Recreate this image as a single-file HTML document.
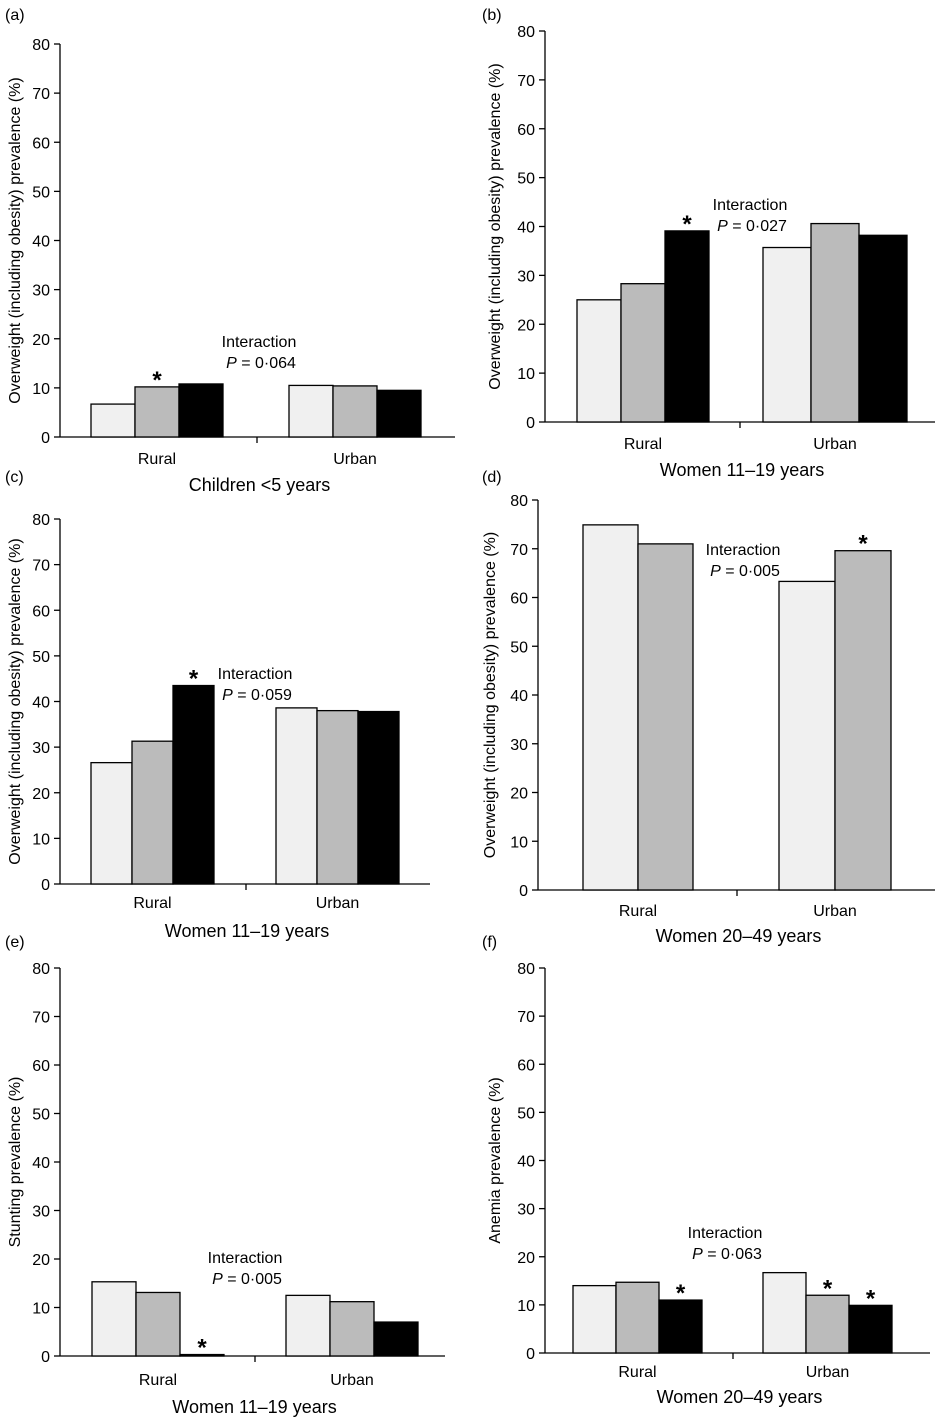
<!DOCTYPE html>
<html><head><meta charset="utf-8"><style>
body{margin:0;background:#fff;}
svg{display:block;font-family:"Liberation Sans",Arial,sans-serif;}
</style></head><body>
<svg id="chart" width="940" height="1419" viewBox="0 0 940 1419"></svg>
<script>
const panelLetters=["(a)","(b)","(c)","(d)","(e)","(f)"];
const groupNames=["Rural","Urban"];
const panelTitles=["Children <5 years","Women 11–19 years","Women 11–19 years","Women 20–49 years","Women 11–19 years","Women 20–49 years"];
const yTitles=["Overweight (including obesity) prevalence (%)","Overweight (including obesity) prevalence (%)","Overweight (including obesity) prevalence (%)","Overweight (including obesity) prevalence (%)","Stunting prevalence (%)","Anemia prevalence (%)"];
const yTicks=[0,10,20,30,40,50,60,70,80];
const valsA=[[6.7,10.2,10.8],[10.5,10.4,9.5]];
const valsB=[[25,28.3,39.1],[35.7,40.6,38.2]];
const valsC=[[26.6,31.3,43.5],[38.6,38,37.8]];
const valsD=[[74.9,71],[63.3,69.6]];
const valsE=[[15.3,13.1,0.3],[12.5,11.2,7.0]];
const valsF=[[14,14.7,11],[16.7,12,9.9]];
const starsA=[[0,1,0],[0,0,0]];
const starsB=[[0,0,1],[0,0,0]];
const starsC=[[0,0,1],[0,0,0]];
const starsD=[[0,0],[0,1]];
const starsE=[[0,0,1],[0,0,0]];
const starsF=[[0,0,1],[0,1,1]];
const pValues=["P = 0·064","P = 0·027","P = 0·059","P = 0·005","P = 0·005","P = 0·063"];
const fills=["#f0f0f0","#bbbbbb","#000000"];
const svg=document.getElementById('chart');
const NS="http://www.w3.org/2000/svg";
function mk(t,a,txt){const e=document.createElementNS(NS,t);for(const k in a)e.setAttribute(k,a[k]);if(txt!==undefined)e.textContent=txt;svg.appendChild(e);return e;}
const layouts=[
 {ax:60,top:44,y0:437,xEnd:455,sep:257,gs:[91,289],bw:[44,44],ly:464,ty:491,lx:5,lyy:20,ix:259,iy:347,yt:22},
 {ax:545,top:31,y0:422,xEnd:935,sep:740,gs:[577,763],bw:[44,48],ly:449,ty:476,lx:482,lyy:20,ix:750,iy:210,yt:502},
 {ax:60,top:519,y0:884,xEnd:430,sep:246,gs:[91,276],bw:[41,41],ly:908,ty:937,lx:5,lyy:482,ix:255,iy:679,yt:22},
 {ax:538,top:500,y0:890,xEnd:935,sep:737,gs:[583,779],bw:[55,56],ly:916,ty:942,lx:482,lyy:482,ix:743,iy:555,yt:497},
 {ax:60,top:968,y0:1356,xEnd:445,sep:255,gs:[92,286],bw:[44,44],ly:1385,ty:1413,lx:5,lyy:947,ix:245,iy:1263,yt:22},
 {ax:545,top:968,y0:1353,xEnd:930,sep:733,gs:[573,763],bw:[43,43],ly:1377,ty:1403,lx:482,lyy:947,ix:725,iy:1238,yt:502}
];
const allVals=[valsA,valsB,valsC,valsD,valsE,valsF];
const allStars=[starsA,starsB,starsC,starsD,starsE,starsF];
layouts.forEach((L,p)=>{
 const y=v=>L.y0-(v/80)*(L.y0-L.top);
 let t=mk('text',{x:L.lx,y:L.lyy,'font-size':16});t.textContent=panelLetters[p];
 
 
 const ax=mk('line',{x1:L.ax,y1:L.top,x2:L.ax,y2:L.y0,stroke:'#000','stroke-width':1.3});
 
 
 const xa=mk('line',{x1:L.ax,y1:L.y0,x2:L.xEnd,y2:L.y0,stroke:'#000','stroke-width':1.3});
 
 
 mk('line',{x1:L.sep,y1:L.y0,x2:L.sep,y2:L.y0+6,stroke:'#000','stroke-width':1.3});
 yTicks.forEach(v=>{
  mk('line',{x1:L.ax-6,y1:y(v),x2:L.ax,y2:y(v),stroke:'#000','stroke-width':1.3});
  const tl=mk('text',{x:L.ax-10,y:y(v)+6,'font-size':16,'text-anchor':'end'},String(v));
  
  
 });
 const yt=mk('text',{x:0,y:0,'font-size':16,'text-anchor':'middle',transform:`translate(${L.yt-2},${(L.top+L.y0)/2}) rotate(-90)`},yTitles[p]);
 
 
 allVals[p].forEach((grp,g)=>{
  const bw=L.bw[g];
  grp.forEach((v,i)=>{
   const x=L.gs[g]+i*bw;
   const r=mk('rect',{x:x,y:y(v),width:bw,height:L.y0-y(v),fill:fills[i],stroke:'#000','stroke-width':1.3});
   
   
   if(allStars[p][g][i]){
    const s=mk('text',{x:x+bw/2,y:y(v)+1,'font-size':24,'font-weight':'bold','text-anchor':'middle'},'*');
    
    
   }
  });
  const n=grp.length;
  const gl=mk('text',{x:L.gs[g]+n*bw/2,y:L.ly,'font-size':16,'text-anchor':'middle'},groupNames[g]);
  
  
 });
 const tt=mk('text',{x:(L.ax+L.xEnd)/2+2,y:L.ty,'font-size':18,'text-anchor':'middle'},panelTitles[p]);
 
 
 const it=mk('text',{x:L.ix,y:L.iy,'font-size':16,'text-anchor':'middle'},'Interaction');
 
 
 const pv=mk('text',{x:L.ix+2,y:L.iy+21,'font-size':16,'text-anchor':'middle'});
 pv.innerHTML='<tspan font-style="italic">P</tspan>'+pValues[p].slice(1);
 
 
});
</script>
</body></html>
